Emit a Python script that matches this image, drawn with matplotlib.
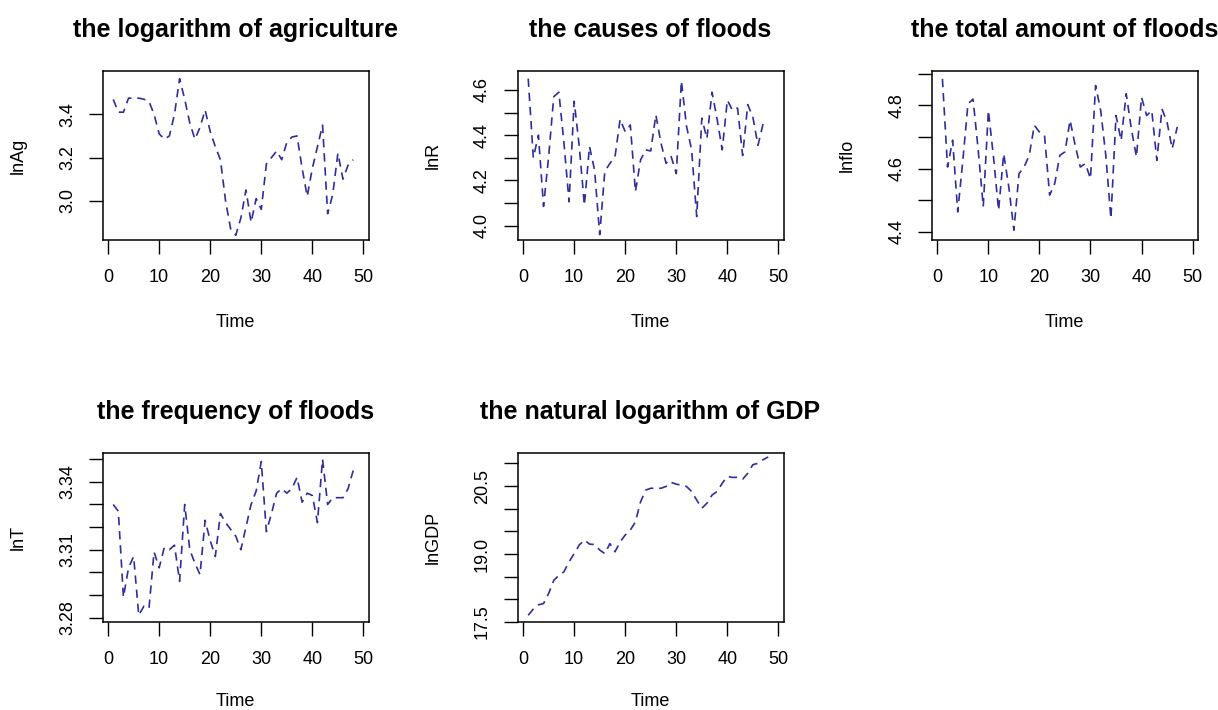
import numpy as np
import matplotlib.pyplot as plt

plt.rcParams['font.family'] = ['Liberation Sans', 'DejaVu Sans']

# values (time index 1..n)
lnAg = [3.469, 3.41, 3.41, 3.475, 3.475, 3.475, 3.47, 3.46, 3.40, 3.31,
        3.285, 3.30, 3.40, 3.565, 3.47, 3.36, 3.285, 3.34, 3.42, 3.32,
        3.25, 3.19, 3.00, 2.87, 2.84, 2.92, 3.05, 2.90, 3.01, 2.96,
        3.17, 3.20, 3.23, 3.19, 3.27, 3.295, 3.30, 3.15, 3.02, 3.15,
        3.25, 3.35, 2.94, 3.03, 3.22, 3.10, 3.165, 3.19]
lnR = [4.65, 4.30, 4.40, 4.085, 4.305, 4.57, 4.59, 4.365, 4.105, 4.55,
       4.35, 4.09, 4.35, 4.245, 3.96, 4.24, 4.275, 4.305, 4.47, 4.415,
       4.445, 4.15, 4.29, 4.335, 4.33, 4.49, 4.365, 4.275, 4.305, 4.23,
       4.64, 4.44, 4.335, 4.04, 4.475, 4.385, 4.59, 4.47, 4.335, 4.555,
       4.51, 4.52, 4.31, 4.535, 4.48, 4.355, 4.45, 4.46]
lnflo = [4.884, 4.605, 4.69, 4.463, 4.626, 4.805, 4.82, 4.66, 4.48, 4.784,
         4.637, 4.468, 4.647, 4.542, 4.405, 4.584, 4.605, 4.642, 4.737, 4.716,
         4.705, 4.516, 4.553, 4.642, 4.653, 4.753, 4.674, 4.605, 4.616, 4.568,
         4.863, 4.784, 4.642, 4.442, 4.768, 4.689, 4.837, 4.726, 4.637, 4.826,
         4.768, 4.784, 4.626, 4.789, 4.747, 4.663, 4.732]
lnT = [3.330, 3.327, 3.289, 3.302, 3.307, 3.281, 3.285, 3.284, 3.309, 3.302,
       3.311, 3.310, 3.312, 3.296, 3.330, 3.310, 3.304, 3.299, 3.323, 3.314,
       3.307, 3.326, 3.322, 3.319, 3.316, 3.310, 3.320, 3.330, 3.336, 3.349,
       3.318, 3.326, 3.335, 3.337, 3.335, 3.337, 3.342, 3.331, 3.335, 3.334,
       3.322, 3.350, 3.330, 3.333, 3.333, 3.333, 3.337, 3.345]
lnGDP = [17.65, 17.79, 17.88, 17.91, 18.13, 18.42, 18.53, 18.61, 18.83, 19.01,
         19.20, 19.31, 19.22, 19.21, 19.09, 19.01, 19.23, 19.05, 19.27, 19.42,
         19.53, 19.71, 20.15, 20.41, 20.45, 20.45, 20.45, 20.49, 20.58, 20.54,
         20.52, 20.49, 20.38, 20.19, 20.01, 20.12, 20.30, 20.38, 20.56, 20.71,
         20.69, 20.69, 20.65, 20.78, 20.97, 21.00, 21.08, 21.14]

titles = ['the logarithm of agriculture', 'the causes of floods',
          'the total amount of floods', 'the frequency of floods',
          'the natural logarithm of GDP']
ylabels = ['lnAg', 'lnR', 'lnflo', 'lnT', 'lnGDP']
series = [lnAg, lnR, lnflo, lnT, lnGDP]

yticks = [[3.0, 3.2, 3.4],
          [4.0, 4.1, 4.2, 4.3, 4.4, 4.5, 4.6],
          [4.4, 4.5, 4.6, 4.7, 4.8, 4.9],
          [3.28, 3.29, 3.30, 3.31, 3.32, 3.33, 3.34, 3.35],
          [17.5, 18.0, 18.5, 19.0, 19.5, 20.0, 20.5, 21.0]]
ytick_labels = [['3.0', '3.2', '3.4'],
                ['4.0', '', '4.2', '', '4.4', '', '4.6'],
                ['4.4', '', '4.6', '', '4.8', ''],
                ['3.28', '', '', '3.31', '', '', '3.34', ''],
                ['17.5', '', '', '19.0', '', '', '20.5', '']]
ylims = [(2.817, 3.602), (3.935, 4.685), (4.373, 4.910),
         (3.2779, 3.3529), (17.496, 21.234)]

W, H = 1218, 710
fig = plt.figure(figsize=(W / 100, H / 100), dpi=100)

lefts = [102.5, 517.5, 931.7]
tops = [70.7, 452.7]
aw, ah = 266, 169.6
line_col = '#2e2e9c'
xlab_y = [-0.484, -0.465]  # bottom row pulled up a little so "Time" isn't cut

for i in range(5):
    r, c = divmod(i, 3)
    ax = fig.add_axes([lefts[c] / W, 1 - (tops[r] + ah) / H, aw / W, ah / H])
    y = series[i]
    t = np.arange(1, len(y) + 1)
    ax.plot(t, y, color=line_col, lw=1.2, ls=(0, (5, 3.5)))
    ax.set_xlim(-1.1, 51.0)
    ax.set_ylim(*ylims[i])
    ax.set_xticks([0, 10, 20, 30, 40, 50])
    ax.set_yticks(yticks[i], labels=ytick_labels[i], rotation=90, va='center')
    ax.tick_params(direction='out', length=10, width=1, labelsize=13,
                   colors='black')
    ax.tick_params(axis='x', pad=11)
    ax.tick_params(axis='y', pad=9)
    for s in ax.spines.values():
        s.set_linewidth(1.1)
    ax.set_title(titles[i], fontsize=18, fontweight='bold', pad=24)
    ax.set_xlabel('Time', fontsize=13, va='center')
    ax.xaxis.set_label_coords(0.5, xlab_y[r])
    ax.set_ylabel(ylabels[i], fontsize=13, va='center')
    ax.yaxis.set_label_coords(-0.3165, 0.5)

fig.savefig('out.png', dpi=100)
